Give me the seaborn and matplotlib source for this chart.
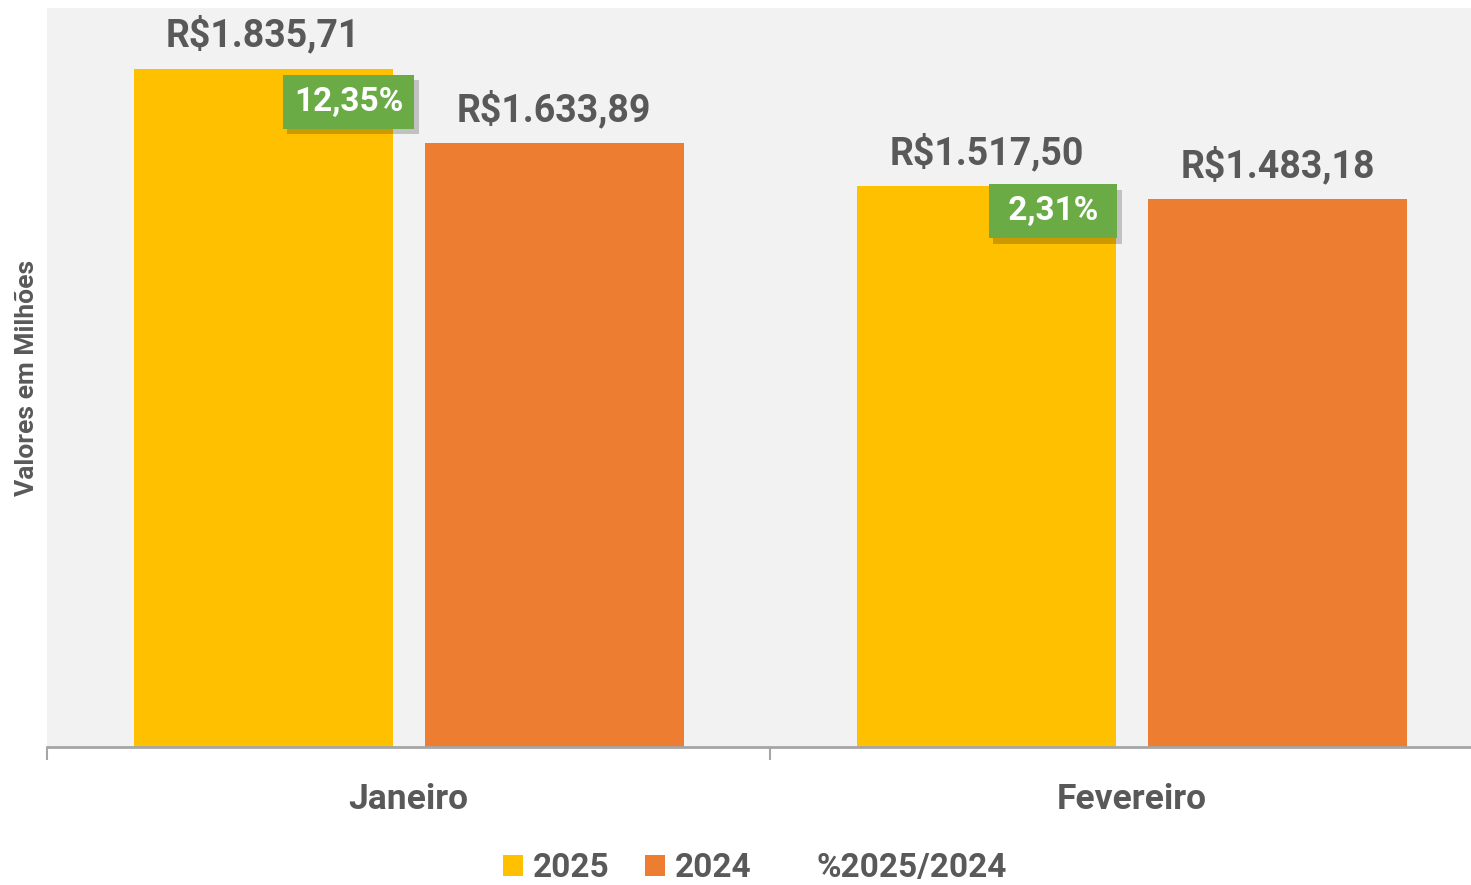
import matplotlib
matplotlib.use('Agg')
import matplotlib.pyplot as plt
import matplotlib.patheffects as pe
from matplotlib.patches import Patch
import pandas as pd
import seaborn as sns

months = ['Janeiro', 'Fevereiro']
values_2025 = [1835.71, 1517.50]
values_2024 = [1633.89, 1483.18]
pct_change = [12.35, 2.31]
series_names = ['2025', '2024']

GRAY = '#595959'
COLORS = {'2025': '#ffc000', '2024': '#ed7d31'}


def brl(v):
    s = f'{v:,.2f}'.replace(',', 'X').replace('.', ',').replace('X', '.')
    return 'R$' + s


df = pd.DataFrame({
    'Mes': months * 2,
    'Ano': [series_names[0]] * len(months) + [series_names[1]] * len(months),
    'Valor': values_2025 + values_2024,
})

sns.set_theme(style='white')
plt.rcParams['font.family'] = ['Roboto', 'DejaVu Sans']
plt.rcParams['font.weight'] = 'bold'

fig = plt.figure(figsize=(14.71, 8.85), dpi=100)
ax = fig.add_axes([47 / 1471, 138 / 885, 1447 / 1471, 739 / 885])
ax.set_facecolor('#f2f2f2')

sns.barplot(data=df, x='Mes', y='Valor', hue='Ano', hue_order=series_names,
            palette=COLORS, width=0.805, gap=0.11, ax=ax, legend=False,
            saturation=1, errorbar=None, linewidth=0)

ax.set_ylim(0, 2000)
ax.set_xlim(-0.5, 1.468)

for cont in ax.containers:
    ax.bar_label(cont, labels=[brl(v) for v in cont.datavalues], padding=10,
                 fontsize=27, fontweight='bold', color=GRAY)

# percentage badges on the 2025 bars (same box width for both)
offsets = [(-60, -17), (-79, -9)]
for i, (p, off) in enumerate(zip(pct_change, offsets)):
    s = f'{p:.2f}%'.replace('.', ',')
    if len(s) < 6:
        s = f' {s} '
    t = ax.annotate(s, xy=(i, values_2025[i]),
                    xytext=off, textcoords='offset pixels', ha='center', va='top',
                    fontsize=24, fontweight='bold', color='white',
                    bbox=dict(boxstyle='square,pad=0.33', fc='#6aab45', ec='none'))
    t.get_bbox_patch().set_path_effects([
        pe.SimplePatchShadow(offset=(3, -4), shadow_rgbFace='#000000', alpha=0.2),
        pe.Normal()])

for side in ['top', 'right', 'left']:
    ax.spines[side].set_visible(False)
ax.spines['bottom'].set_color('#a6a6a6')
ax.spines['bottom'].set_linewidth(2)

ax.set_yticks([])
ax.set_xticks([0, 1])
ax.set_xticklabels(months, fontsize=25.5, fontweight='bold', color=GRAY)
ax.tick_params(axis='x', which='major', length=0, pad=26)
ax.set_xticks([-0.5, 0.5, 1.5], minor=True)
ax.tick_params(axis='x', which='minor', length=9, width=1.5, color='#a6a6a6',
               direction='out', bottom=True)
ax.set_xlabel('')
ax.set_ylabel('Valores em Milhões', fontsize=19, fontweight='bold', color=GRAY)
ax.yaxis.set_label_coords(-8 / 1447, 0.5 + (747 - 378 - 369.5) / 739)

handles = [Patch(fc=COLORS['2025'], ec='none', label='2025'),
           Patch(fc=COLORS['2024'], ec='none', label='2024'),
           Patch(fc='none', ec='none', label='%2025/2024')]
leg = fig.legend(handles=handles, loc='center', bbox_to_anchor=(755 / 1471, 1 - 868 / 885),
                 ncol=3, frameon=False, fontsize=24, handlelength=0.6, handleheight=0.6,
                 handletextpad=0.3, columnspacing=1.05)
for txt in leg.get_texts():
    txt.set_color(GRAY)
    txt.set_fontweight('bold')

fig.savefig('out.png', dpi=100)
